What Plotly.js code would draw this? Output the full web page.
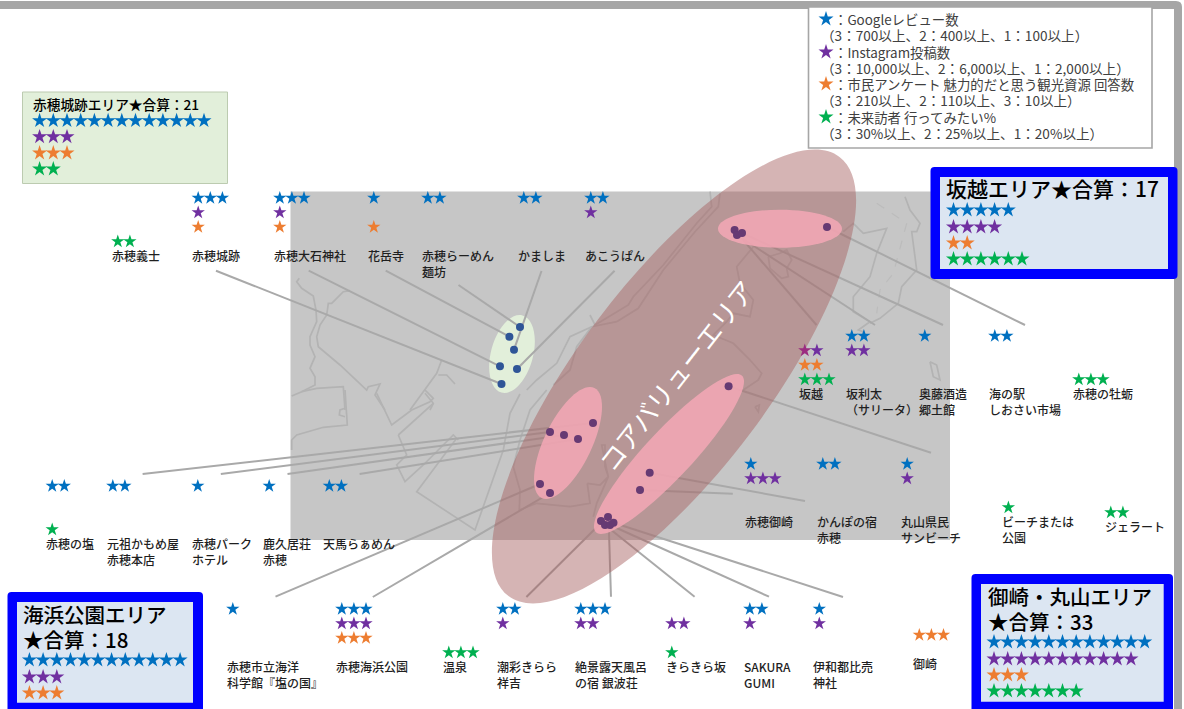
<!DOCTYPE html>
<html><head><meta charset="utf-8">
<script src="https://cdn.plot.ly/plotly-3.0.1.min.js"></script>
<style>html,body{margin:0;padding:0;background:#fff}</style></head>
<body><div id="chart" style="width:1184px;height:709px"></div>
<script>
// ---------- values ----------
const spotNames = ['赤穂義士','赤穂城跡','赤穂大石神社','花岳寺','赤穂らーめん<br>麺坊','かましま','あこうぱん',
 '坂越','坂利太<br>（サリータ）','奥藤酒造<br>郷土館','海の駅<br>しおさい市場','赤穂の牡蛎',
 '赤穂御崎','かんぽの宿<br>赤穂','丸山県民<br>サンビーチ','ビーチまたは<br>公園','ジェラート',
 '赤穂の塩','元祖かもめ屋<br>赤穂本店','赤穂パーク<br>ホテル','鹿久居荘<br>赤穂','天馬らぁめん',
 '赤穂市立海洋<br>科学館『塩の国』','赤穂海浜公園','温泉','潮彩きらら<br>祥吉','絶景露天風呂<br>の宿 銀波荘','きらきら坂','SAKURA<br>GUMI','伊和都比売<br>神社','御崎'];
const googleStars = [0,3,3,1,2,2,2, 0,2,1,2,0, 1,2,1,0,0, 2,2,1,1,2, 1,3,0,2,3,0,2,1,0];
const instaStars  = [0,1,1,0,0,0,1, 2,2,0,0,0, 3,0,1,0,0, 0,0,0,0,0, 0,3,0,1,2,2,1,1,0];
const surveyStars = [0,1,1,1,0,0,0, 2,0,0,0,0, 0,0,0,0,0, 0,0,0,0,0, 0,3,0,0,0,0,0,0,3];
const visitStars  = [2,0,0,0,0,0,0, 3,0,0,0,3, 0,0,0,1,2, 1,0,0,0,0, 0,0,3,0,0,1,0,0,0];

const areaTitles = ['赤穂城跡エリア★合算：21','坂越エリア★合算：17','海浜公園エリア','★合算：18','御崎・丸山エリア','★合算：33'];
const areaGoogle = [13,5,12,12];
const areaInsta  = [3,4,3,11];
const areaSurvey = [3,2,3,3];
const areaVisit  = [2,6,0,7];

const legendLines = ['：Googleレビュー数','（3：700以上、2：400以上、1：100以上）','：Instagram投稿数','（3：10,000以上、2：6,000以上、1：2,000以上）',
 '：市民アンケート 魅力的だと思う観光資源 回答数','（3：210以上、2：110以上、3：10以上）','：未来訪者 行ってみたい%','（3：30%以上、2：25%以上、1：20%以上）'];
const coreLabel = 'コアバリューエリア';

// ---------- placement ----------
const spotX = [110.5,191,272.5,366.5,420.5,516.5,583.5, 797.5,844.5,917.5,987.5,1071.5, 743.5,815.5,900,1001,1103.5, 45,105.5,190.5,262,322, 225.5,334.5,441.5,495.5,573.5,664.5,742.5,812,912];
const spotY = [254,254,254,254,254,254,254, 392,392,392,392,392, 520,520,520,520,525, 542,542,542,542,542, 665,665,665,665,665,665,665,665,662];
const starX = [112,192.4,274,368,422,518,585, 799,846,919,989,1073, 745,817,901.4,1002.6,1105, 46.4,107,192,263.4,323.5, 227,336,443,497,575,666,744,813.5,913.5];
const starBase = [256,256,256,256,256,256,256, 394,394,394,394,394, 522,522,522,522,527, 544,544,544,544,544, 667,667,667,667,667,667,667,667,664];
const rowOffsets = [-58,-43.5,-29,-14.5];
const colors = ['#0070c0','#7030a0','#ed7d31','#00b050'];

const areaBoxX = [39.6,953.5,29.4,994];
const areaRowsY = [[120.7,136.8,153,169],[210,227,243,259],[660,677,693,709],[642,659,675,691]];
const areaTitleX = [31.5,945,22,22,986.5,986.5];
const areaTitleY = [103.5,188,614,639,596,621];
const areaTitleSize = [13.7,21,20.5,20.5,20.5,20.5];

const legendStarY = [19,52,84,117];
const legendY = [19,35,52,68,84,100,117,133];
const legendX = [833,820,833,820,833,820,833,820];
const legendSize = [13.4,13.6,13.4,13.6,13.4,13.6,13.4,13.6];

const dotXg=[520,509.4,514,500,517,501.5], dotYg=[327,336.7,349.7,366.3,369,384];
const dotXp=[827,734.6,737,742, 593,550,564,578,540,550, 728.6,649.7,640, 601,608,605,610,613.5];
const dotYp=[227,230,235,233, 423,432,435,439,484,493, 386.3,472.7,490, 521,517,525,525,522.7];

const connX0=[216,308.7,385.7,458.5,541.5,614.6, 816.5,875,943,1025, 931,805,732.8, 142.6,220.8,287.5,359.6,275.5,372.8, 526.4,611,694.6,769,843];
const connY0=[270.7,270.7,270.7,285,271,270.7, 325,325,325,325, 452.7,501,493.7, 474,474,474,474,596.7,597, 597,596.7,596.7,596.7,597];
const connX1=[501.5,500,509.4,520,514,517, 734.6,737,742,827, 728.6,649.7,640, 593,550,564,578,540,550, 603,608.6,605,610,613.5];
const connY1=[384,366.3,336.7,327,349.7,369, 230,235,233,227, 386.3,472.7,490, 423,432,435,439,484,493, 521,520,525,525,522.7];

// map outlines as seen in enlarged crops: origin x, origin y, then points at 3x
const mapTiles = [
 [290,260,[28,55,20,65,35,85,70,108,78,150,80,185,60,230,60,255,75,290,60,325,75,350,75,375,35,395,5,408]],
 [290,260,[35,395,80,385,160,380,165,450]],
 [290,260,[180,92,160,95,125,130,115,130,110,165,90,195,80,230,85,260,150,315,230,390,235,380,270,372,255,405,285,450]],
 [290,260,[455,300,440,340,400,395,360,450]],
 [290,260,[445,345,470,345,495,372]],
 [290,260,[405,400,430,430,420,450]],
 [290,390,[165,0,172,105,100,112,20,135,5,150,5,180]],
 [290,390,[165,55,150,60,148,75,165,80]],
 [290,390,[260,10,305,105,365,60,420,35,430,25,405,0]],
 [290,390,[325,135,430,40]],
 [290,390,[325,135,350,195,320,225,345,275,400,225,490,135,505,150]],
 [290,390,[500,145,380,305,555,420,640,180,660,70,690,12]],
 [290,390,[690,150,720,60,770,0]],
 [290,390,[690,150,670,230,690,300,688,360,740,340,840,350]],
 [500,370,[262,340,300,345,325,320,320,300,305,225,315,225,315,290,325,320,290,400,280,440]],
 [500,370,[210,410,270,400,262,340]],
 [520,190,[570,5,575,50,530,100,430,225,340,320,325,345,225,405,210,375]],
 [520,190,[600,10,595,50,525,125,430,240,355,355,290,395,215,410,170,470,150,540,100,585]],
 [520,190,[215,410,150,440,110,520,50,570,20,600]],
 [520,190,[700,170,650,230,660,280,700,330,690,380,640,370,620,395,580,435,640,460,690,510,725,550,715,570,670,600]],
 [720,190,[145,200,180,190,200,180,215,210,200,235,205,260,185,265,150,235,145,200]],
 [720,190,[370,125,400,100,430,130,500,115,470,190,450,260,400,320,400,365,450,395,415,420,430,425]],
 [720,190,[555,20,570,60,600,100,590,125,575,125,590,240,545,290,535,340,480,385,450,400]],
 [720,190,[630,515,650,525,660,570,640,560,630,515]],
 [720,190,[105,650,118,645,115,665,105,650]]
];
const mapDashed = [[720,190,[470,40,560,100,520,250,480,300,470,370]]];

// ---------- helpers ----------
function ellipse(cx,cy,a,b,deg){
  const t=deg*Math.PI/180,k=0.5523,ux=a*Math.cos(t),uy=-a*Math.sin(t),vx=b*Math.sin(t),vy=b*Math.cos(t);
  const p=(m,n)=>(cx+m*ux+n*vx).toFixed(1)+','+(cy+m*uy+n*vy).toFixed(1);
  return 'M'+p(1,0)+'C'+p(1,k)+' '+p(k,1)+' '+p(0,1)+'C'+p(-k,1)+' '+p(-1,k)+' '+p(-1,0)+'C'+p(-1,-k)+' '+p(-k,-1)+' '+p(0,-1)+'C'+p(k,-1)+' '+p(1,-k)+' '+p(1,0)+'Z';
}
function rrect(x0,y0,x1,y1,r){
  return `M${x0+r},${y0}L${x1-r},${y0}Q${x1},${y0} ${x1},${y0+r}L${x1},${y1-r}Q${x1},${y1} ${x1-r},${y1}L${x0+r},${y1}Q${x0},${y1} ${x0},${y1-r}L${x0},${y0+r}Q${x0},${y0} ${x0+r},${y0}Z`;
}
const rect=(x0,y0,x1,y1,fill,lc,lw)=>({type:'rect',layer:'below',xref:'x',yref:'y',x0,y0,x1,y1,fillcolor:fill,line:{color:lc||fill,width:lw===undefined?0:lw}});
const path=(d,fill,lc,lw,dash)=>({type:'path',layer:'below',xref:'x',yref:'y',path:d,fillcolor:fill,line:{color:lc||'rgba(0,0,0,0)',width:lw||0,dash:dash||'solid'}});

const FONT='"Noto Sans CJK JP","Noto Sans",sans-serif';
const shapes=[];
// frame
shapes.push(path('M0,1L1176,1Q1182,1 1182,7L1182,709L1174,709L1174,9L0,9Z','#a6a6a6'));
// map panel
shapes.push(rect(290.5,191.5,950,540,'#c6c6c6'));
mapTiles.forEach(t=>{let d='';for(let i=0;i<t[2].length;i+=2){d+=(i?'L':'M')+(t[0]+t[2][i]/3).toFixed(1)+','+(t[1]+t[2][i+1]/3).toFixed(1);}
  shapes.push(path(d,'rgba(0,0,0,0)','#b3b3b3',1.7));});
mapDashed.forEach(t=>{let d='';for(let i=0;i<t[2].length;i+=2){d+=(i?'L':'M')+(t[0]+t[2][i]/3).toFixed(1)+','+(t[1]+t[2][i+1]/3).toFixed(1);}
  shapes.push(path(d,'rgba(0,0,0,0)','#bcbcbc',1.2,'dash'));});
// green ellipse
shapes.push(path(ellipse(512,354,40,21,74.8),'#e2efda'));
// leaders
connX0.forEach((x,i)=>shapes.push({type:'line',layer:'below',xref:'x',yref:'y',x0:x,y0:connY0[i],x1:connX1[i],y1:connY1[i],line:{color:'#a9a9a9',width:2}}));
// core ellipses
shapes.push(path(ellipse(674,376.5,275,95,53),'rgba(165,95,95,0.47)'));
shapes.push(path(ellipse(780,228.7,62,19,0),'rgba(245,168,182,0.85)'));
shapes.push(path(ellipse(568,443,61,23.8,64.4),'rgba(245,168,182,0.85)'));
shapes.push(path(ellipse(669,454,107,23.6,47),'rgba(245,168,182,0.85)'));
// legend box
shapes.push(rect(808.5,7,1152,148,'#ffffff','#a6a6a6',1.6));
// area boxes
shapes.push(rect(22.5,92,227.5,183.5,'#e2efda','#bccbb0',1));
[[930.5,167,1177.5,279,940,177,1168,269],[7.5,592,203,716,17,602,193,702.7],[971.5,574,1173,716,981,584,1163.7,701.7]].forEach(b=>{
  shapes.push(path(rrect(b[0],b[1],b[2],b[3],4),'#0000ff'));
  shapes.push(rect(b[4],b[5],b[6],b[7],'#dce6f2'));
});

// ---------- stars, drawn from counts ----------
const traces=[];
function starTrace(xs,ys,col,size,cols){
  return {type:'scatter',mode:'markers',x:xs,y:ys,hoverinfo:'skip',showlegend:false,
    marker:{symbol:'star',size:size,color:cols||col,line:{width:0}}};
}
[googleStars,instaStars,surveyStars,visitStars].forEach((counts,k)=>{
  const xs=[],ys=[],cs=[];
  counts.forEach((n,i)=>{for(let j=0;j<n;j++){xs.push(starX[i]+5.8+j*12.1);ys.push(starBase[i]+rowOffsets[k]);
    // first Instagram star of 坂越 sits under the translucent core ellipse
    cs.push(k===1&&i===7&&j===0?'#9b2c80':colors[k]);}});
  traces.push(starTrace(xs,ys,colors[k],10,cs));
});
[areaGoogle,areaInsta,areaSurvey,areaVisit].forEach((counts,k)=>{
  const xs=[],ys=[];
  counts.forEach((n,i)=>{for(let j=0;j<n;j++){xs.push(areaBoxX[i]+j*13.7);ys.push(areaRowsY[i][k]);}});
  traces.push(starTrace(xs,ys,colors[k],11.3));
  traces.push(starTrace([826],[legendStarY[k]],colors[k],11.3));
});
// dots
traces.push({type:'scatter',mode:'markers',x:dotXg,y:dotYg,hoverinfo:'skip',showlegend:false,marker:{size:8,color:'#2f5597'}});
traces.push({type:'scatter',mode:'markers',x:dotXp,y:dotYp,hoverinfo:'skip',showlegend:false,marker:{size:8,color:'#663a73'}});

// ---------- text ----------
const ann=[];
const txt=(x,y,text,size,color,ya,w)=>({x,y,xref:'x',yref:'y',text,showarrow:false,xanchor:'left',yanchor:ya||'middle',align:'left',borderpad:0,
  font:{family:FONT,size,color,weight:w||400}});
spotNames.forEach((n,i)=>ann.push(txt(spotX[i],spotY[i]-8.5,n,12,'#1f1f1f','top',500)));
legendLines.forEach((l,i)=>ann.push(txt(legendX[i],legendY[i],l,legendSize[i],'#404040')));
areaTitles.forEach((t,i)=>ann.push(txt(areaTitleX[i],areaTitleY[i],t,areaTitleSize[i],'#000000','middle',500)));
ann.push({x:675,y:375,xref:'x',yref:'y',text:coreLabel,showarrow:false,textangle:-52,font:{family:FONT,size:26,color:'#ffffff'}});

Plotly.newPlot('chart',traces,{
  width:1184,height:709,margin:{l:0,r:0,t:0,b:0,pad:0},autosize:false,showlegend:false,
  paper_bgcolor:'#ffffff',plot_bgcolor:'#ffffff',
  xaxis:{range:[0,1184],visible:false,fixedrange:true},
  yaxis:{range:[709,0],visible:false,fixedrange:true},
  shapes:shapes,annotations:ann
},{staticPlot:true,displayModeBar:false});
</script></body></html>
